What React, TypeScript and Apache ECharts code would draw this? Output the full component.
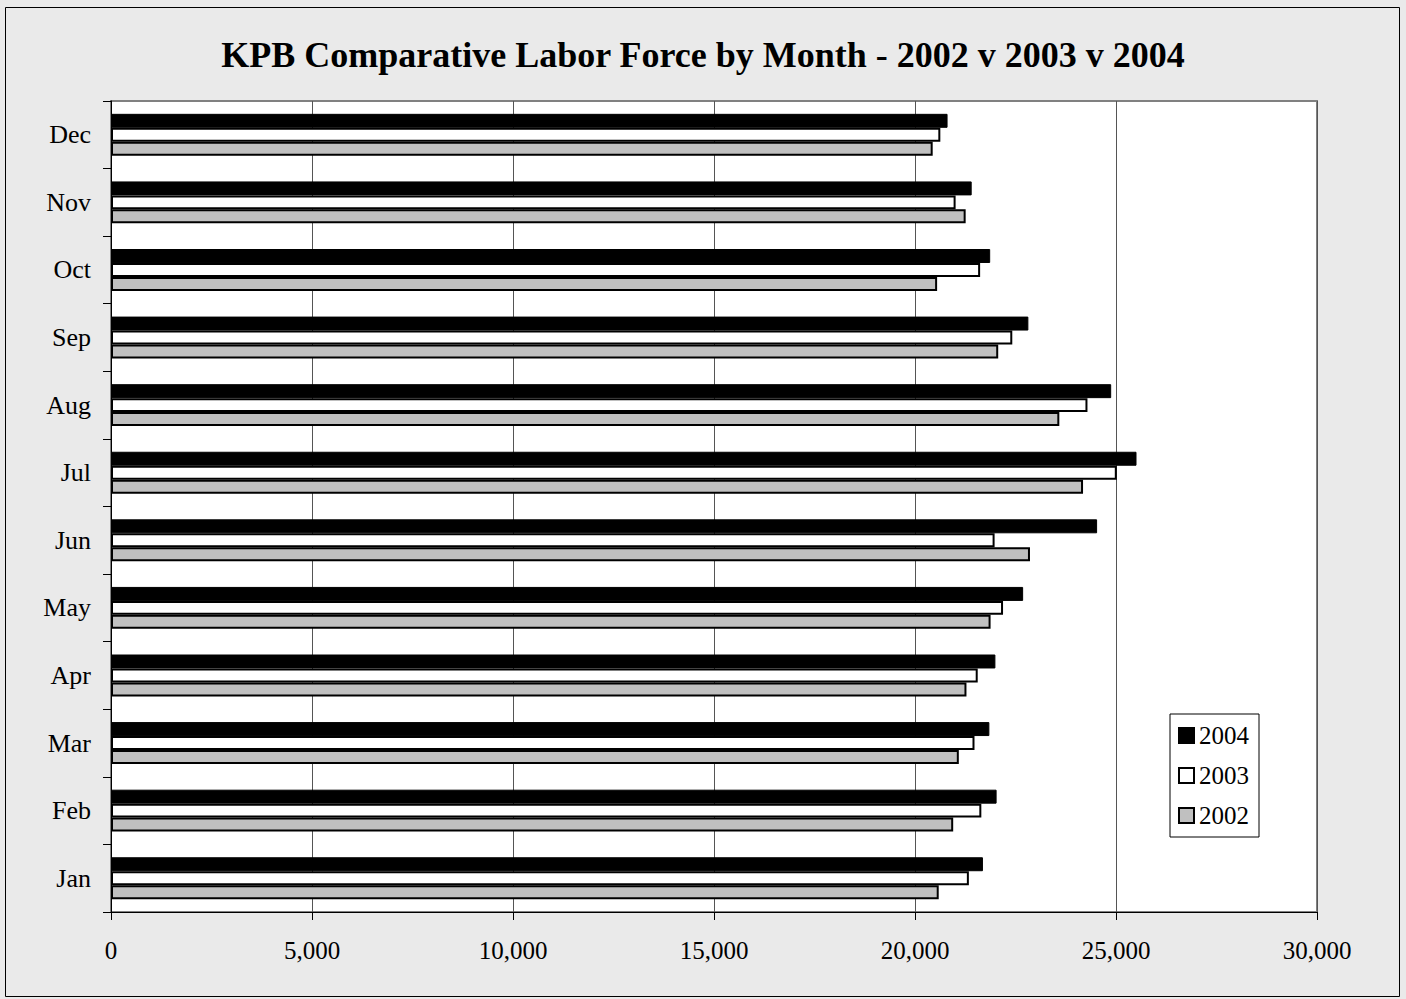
import React, { useEffect, useRef } from "react";
import * as echarts from "echarts";

const months = ["Jan", "Feb", "Mar", "Apr", "May", "Jun", "Jul", "Aug", "Sep", "Oct", "Nov", "Dec"];
const labor2004 = [21690, 22030, 21850, 22000, 22690, 24530, 25510, 24880, 22820, 21870, 21410, 20810];
const labor2003 = [21340, 21650, 21480, 21560, 22190, 21980, 25020, 24290, 22420, 21620, 21010, 20630];
const labor2002 = [20590, 20950, 21090, 21280, 21880, 22860, 24180, 23590, 22070, 20550, 21260, 20440];
const xTicks = [0, 5000, 10000, 15000, 20000, 25000, 30000];

const FONT = "'Liberation Serif', 'Times New Roman', serif";

export default function App() {
  const ref = useRef<HTMLDivElement>(null);
  useEffect(() => {
    if (!ref.current) return;
    const chart = echarts.init(ref.current, null, { renderer: "svg" });
    chart.setOption({
      animation: false,
      backgroundColor: "#EAEAEA",
      textStyle: { fontFamily: FONT },
      title: {
        text: "KPB Comparative Labor Force by Month - 2002 v 2003 v 2004",
        left: "center",
        top: 32,
        textStyle: { fontFamily: FONT, fontSize: 36, fontWeight: "bold", color: "#000" },
      },
      graphic: [
        {
          type: "rect",
          shape: { x: 5.5, y: 7.5, width: 1394, height: 989 },
          style: { fill: "none", stroke: "#000", lineWidth: 1 },
          silent: true,
        },
      ],
      legend: {
        orient: "vertical",
        left: 1170,
        top: 714,
        icon: "rect",
        itemWidth: 15,
        itemHeight: 15,
        itemGap: 15,
        padding: [9, 10, 9, 8],
        borderColor: "#000",
        borderWidth: 1,
        backgroundColor: "#fff",
        textStyle: { fontFamily: FONT, fontSize: 25, color: "#000", padding: [0, 0, 0, 0] },
        data: ["2004", "2003", "2002"],
      },
      grid: {
        left: 111,
        top: 101,
        width: 1206,
        height: 811,
        show: true,
        backgroundColor: "#fff",
        borderColor: "#808080",
        borderWidth: 2,
      },
      xAxis: {
        type: "value",
        min: 0,
        max: 30000,
        interval: 5000,
        axisLine: { show: true, lineStyle: { color: "#000", width: 1 } },
        axisTick: { show: true, length: 8, lineStyle: { color: "#000" } },
        splitLine: { show: true, lineStyle: { color: "#555", width: 1 } },
        axisLabel: {
          fontFamily: FONT,
          fontSize: 25,
          color: "#000",
          margin: 26,
          formatter: (v: number) => (xTicks.includes(v) ? v.toLocaleString("en-US") : ""),
        },
      },
      yAxis: {
        type: "category",
        data: months,
        axisLine: { show: true, lineStyle: { color: "#000", width: 1 } },
        axisTick: { show: true, length: 8, lineStyle: { color: "#000" } },
        axisLabel: { fontFamily: FONT, fontSize: 26, color: "#000", margin: 20 },
        splitLine: { show: false },
      },
      series: [
        {
          name: "2004",
          type: "bar",
          data: labor2004,
          barGap: "0%",
          barCategoryGap: "38%",
          itemStyle: { color: "#000", borderColor: "#000", borderWidth: 1 },
        },
        {
          name: "2003",
          type: "bar",
          data: labor2003,
          barGap: "0%",
          barCategoryGap: "38%",
          itemStyle: { color: "#fff", borderColor: "#000", borderWidth: 2 },
        },
        {
          name: "2002",
          type: "bar",
          data: labor2002,
          barGap: "0%",
          barCategoryGap: "38%",
          itemStyle: { color: "#C0C0C0", borderColor: "#000", borderWidth: 2 },
        },
      ],
    });
    return () => chart.dispose();
  }, []);
  return (
    <div
      ref={ref}
      style={{ position: "absolute", left: 0, top: 0, width: 1406, height: 999 }}
    />
  );
}
